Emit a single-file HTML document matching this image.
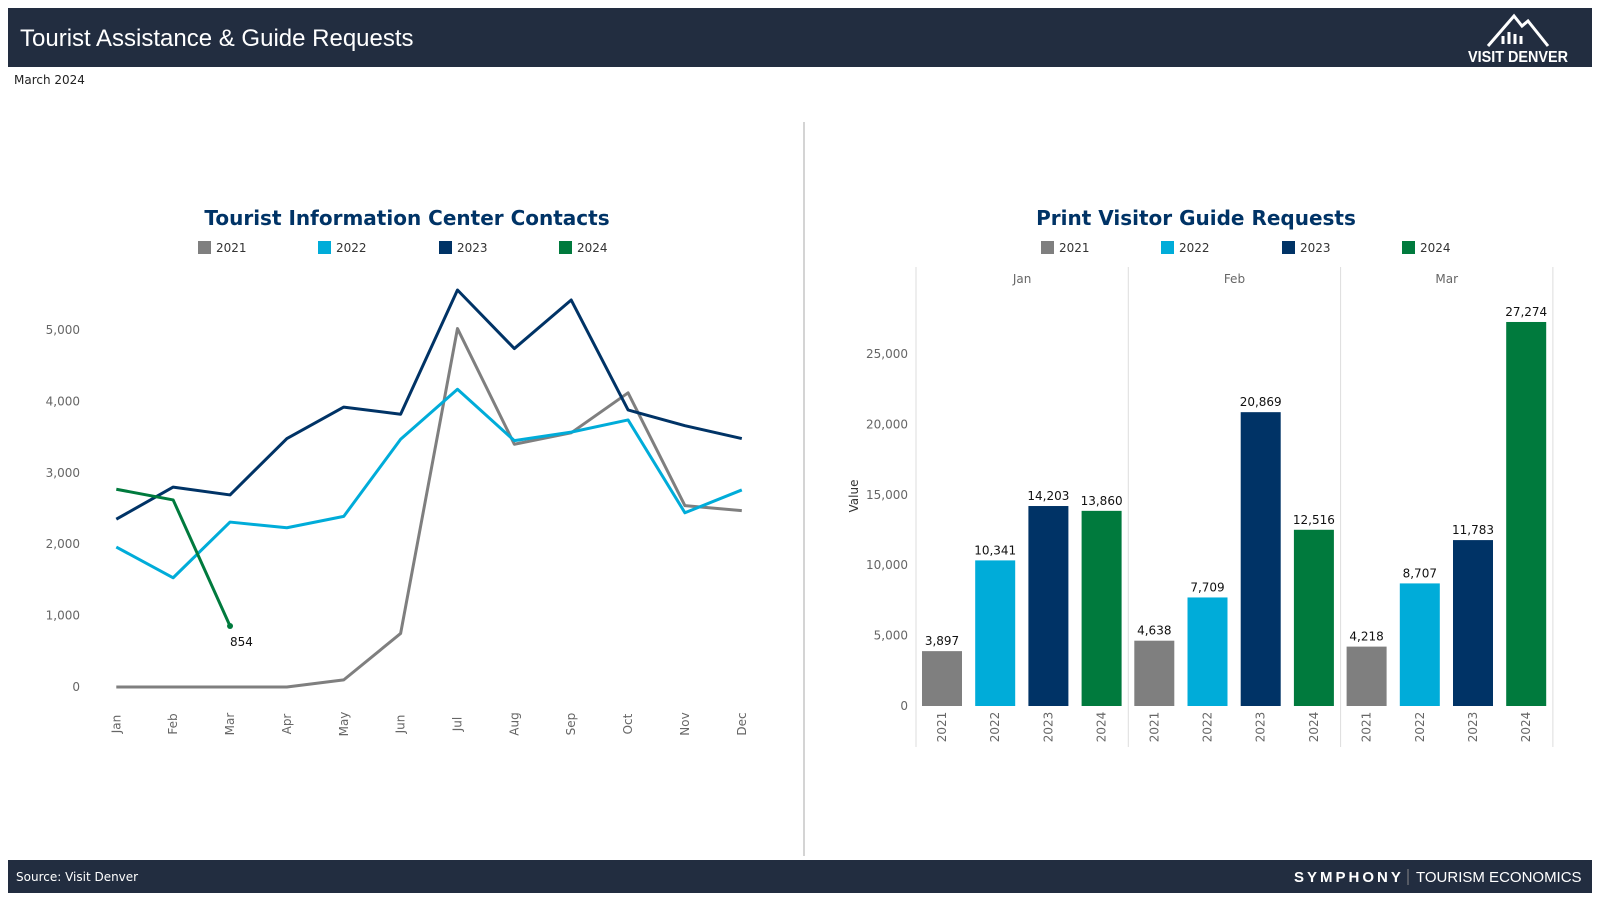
<!DOCTYPE html>
<html><head><meta charset="utf-8">
<style>
body{margin:0;width:1600px;height:900px;background:#fff;overflow:hidden;font-family:"Liberation Sans","DejaVu Sans",sans-serif}
svg text{font-family:"DejaVu Sans","Liberation Sans",sans-serif}
</style></head><body>
<svg id="page" width="1600" height="900">
<rect x="8" y="8" width="1584" height="59" fill="#222d40"/>
<text x="20" y="46" font-size="24" fill="#fff" style="font-family:'Liberation Sans',sans-serif">Tourist Assistance &amp; Guide Requests</text>
<g>
<path d="M1488 46 L1514 16 L1522 26 L1528 21 L1548 46" fill="none" stroke="#fff" stroke-width="3"/>
<path d="M1503 44 v-8 M1509 44 v-12 M1515 44 v-10 M1521 44 v-8" stroke="#fff" stroke-width="3"/>
<text x="1518" y="62" font-size="16" font-weight="bold" fill="#fff" text-anchor="middle" style="font-family:'Liberation Sans',sans-serif" transform="scale(0.9,1)" transform-origin="1518 62">VISIT DENVER</text>
</g>
<text x="14" y="84" font-size="12" fill="#222">March 2024</text>
<line x1="804" y1="122" x2="804" y2="856" stroke="#d4d4d4" stroke-width="2"/>
<rect x="8" y="860" width="1584" height="33" fill="#222d40"/>
<text x="16" y="881" font-size="12" fill="#fff">Source: Visit Denver</text>
<text x="1294" y="882" font-size="15" font-weight="bold" letter-spacing="3" fill="#fff" style="font-family:'Liberation Sans',sans-serif">SYMPHONY</text>
<line x1="1408" y1="869" x2="1408" y2="885" stroke="#888"/>
<text x="1416" y="882" font-size="15" fill="#fff" style="font-family:'Liberation Sans',sans-serif">TOURISM ECONOMICS</text>
<g id="line-chart"></g>
<g id="bar-chart"></g>
</svg>
<script>
const NS="http://www.w3.org/2000/svg";
const colors=["#7f7f7f","#00acd9","#003366","#007a3d"];
const years=["2021","2022","2023","2024"];
const months=["Jan","Feb","Mar","Apr","May","Jun","Jul","Aug","Sep","Oct","Nov","Dec"];
const contacts2021=[0,0,0,0,100,750,5020,3400,3560,4120,2540,2470];
const contacts2022=[1960,1530,2310,2230,2390,3470,4170,3450,3570,3740,2440,2760];
const contacts2023=[2350,2800,2690,3480,3920,3820,5560,4740,5420,3880,3660,3480];
const contacts2024=[2770,2620,854];
const lineTicks=[0,1000,2000,3000,4000,5000];
const guideMonths=["Jan","Feb","Mar"];
const guide2021=[3897,4638,4218];
const guide2022=[10341,7709,8707];
const guide2023=[14203,20869,11783];
const guide2024=[13860,12516,27274];
const barTicks=[0,5000,10000,15000,20000,25000];

function mk(tag,attrs,parent,txt){const e=document.createElementNS(NS,tag);for(const k in attrs)e.setAttribute(k,attrs[k]);if(txt!==undefined)e.textContent=txt;parent.appendChild(e);return e;}
function fmt(v){return v.toLocaleString("en-US");}
function legend(g,cx,xs){years.forEach((y,i)=>{const it=mk("g",{},g);


mk("rect",{x:xs[i],y:241,width:13,height:13,fill:colors[i]},it);mk("text",{x:xs[i]+18,y:252,"font-size":12,fill:"#333"},it,y);});}

// line chart
const L=document.getElementById("line-chart");
const lx=i=>116.3+i*(741.8-116.3)/11, ly=v=>687-v*0.0714;
const t1=mk("text",{x:407,y:225,"font-size":20,"font-weight":"bold",fill:"#003366","text-anchor":"middle"},L,"Tourist Information Center Contacts");


legend(L,407,[198,318,439,559]);
lineTicks.forEach(t=>{const e=mk("text",{x:80,y:ly(t)+4,"font-size":12,fill:"#666","text-anchor":"end"},L,fmt(t));

});
months.forEach((m,i)=>{const e=mk("text",{x:lx(i)+4,y:724,"font-size":12,fill:"#666","text-anchor":"middle",transform:`rotate(-90 ${lx(i)+4} 724)`},L,m);

});
[contacts2021,contacts2022,contacts2023,contacts2024].forEach((s,k)=>{
const p=mk("polyline",{points:s.map((v,i)=>lx(i)+","+ly(v)).join(" "),fill:"none",stroke:colors[k],"stroke-width":3,"stroke-linejoin":"round"},L);

});
const last=contacts2024.length-1;
const dot=mk("circle",{cx:lx(last),cy:ly(contacts2024[last]),r:3,fill:colors[3]},L);


const dl=mk("text",{x:lx(last),y:ly(contacts2024[last])+20,"font-size":12,fill:"#111"},L,fmt(contacts2024[last]));



// bar chart
const B=document.getElementById("bar-chart");
const by=v=>706-v*0.01408;
const t2=mk("text",{x:1196,y:225,"font-size":20,"font-weight":"bold",fill:"#003366","text-anchor":"middle"},B,"Print Visitor Guide Requests");


legend(B,1196,[1041,1161,1282,1402]);
const yl=mk("text",{x:858,y:496,"font-size":12,fill:"#333","text-anchor":"middle",transform:"rotate(-90 858 496)"},B,"Value");


barTicks.forEach(t=>{const e=mk("text",{x:908,y:by(t)+4,"font-size":12,fill:"#666","text-anchor":"end"},B,fmt(t));

});
const panelW=212.3,x0=916;
for(let j=0;j<=3;j++){const e=mk("line",{x1:x0+j*panelW,y1:267,x2:x0+j*panelW,y2:747,stroke:"#ddd","stroke-width":1},B);

}
const series=[guide2021,guide2022,guide2023,guide2024];
guideMonths.forEach((m,j)=>{
const px=x0+j*panelW;
const h=mk("text",{x:px+panelW/2,y:283,"font-size":12,fill:"#666","text-anchor":"middle"},B,m);


series.forEach((s,k)=>{const bx=px+6+k*53.2;const v=s[j];
const r=mk("rect",{x:bx,y:by(v),width:40,height:706-by(v),fill:colors[k]},B);


const lb=mk("text",{x:bx+20,y:by(v)-6,"font-size":12,fill:"#111","text-anchor":"middle"},B,fmt(v));


const yt=mk("text",{x:bx+24,y:727,"font-size":12,fill:"#666","text-anchor":"middle",transform:`rotate(-90 ${bx+24} 727)`},B,years[k]);

});});
</script>
</body></html>
